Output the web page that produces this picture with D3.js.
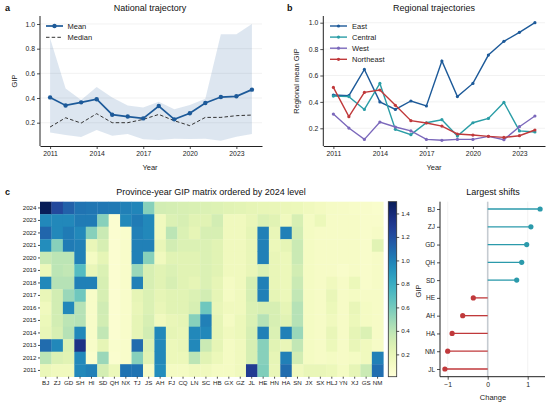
<!DOCTYPE html>
<html>
<head>
<meta charset="utf-8">
<script src="https://cdn.jsdelivr.net/npm/d3@7"></script>
<style>
  body { margin: 0; background: #fff; }
  svg { font-family: "Liberation Sans", Arial, sans-serif; }
  .tick text { fill: #222; }
</style>
</head>
<body>
<div id="chart"></div>
<script>
// ---- data ----
const years = [2011, 2012, 2013, 2014, 2015, 2016, 2017, 2018, 2019, 2020, 2021, 2022, 2023, 2024];

// panel a: national trajectory
const nationalMean   = [0.405, 0.34, 0.365, 0.39, 0.265, 0.25, 0.235, 0.335, 0.227, 0.276, 0.36, 0.408, 0.414, 0.468];
const nationalMedian = [0.165, 0.24, 0.197, 0.273, 0.2, 0.2, 0.227, 0.267, 0.216, 0.176, 0.243, 0.243, 0.257, 0.262];
const bandHigh = [0.884, 0.478, 0.384, 0.49, 0.405, 0.34, 0.324, 0.37, 0.31, 0.343, 0.395, 0.916, 0.916, 1.0];
const bandLow  = [0.12, 0.10, 0.084, 0.14, 0.095, 0.108, 0.065, 0.06, 0.07, 0.068, 0.07, 0.054, 0.086, 0.108];

// panel b: regional means
const regionNames = ['East', 'Central', 'West', 'Northeast'];
const eastMean      = [0.452, 0.447, 0.646, 0.40, 0.343, 0.407, 0.369, 0.71, 0.44, 0.54, 0.755, 0.859, 0.927, 1.0];
const centralMean   = [0.444, 0.44, 0.343, 0.54, 0.192, 0.152, 0.242, 0.265, 0.141, 0.242, 0.275, 0.396, 0.18, 0.172];
const westMean      = [0.308, 0.202, 0.116, 0.247, 0.21, 0.18, 0.116, 0.109, 0.116, 0.116, 0.139, 0.114, 0.212, 0.293];
const northeastMean = [0.51, 0.288, 0.472, 0.49, 0.374, 0.258, 0.24, 0.217, 0.157, 0.149, 0.139, 0.131, 0.144, 0.187];

// panel c: heatmap, provinces ordered by 2024 level, values listed 2024 -> 2011
const heatYears = [2024, 2023, 2022, 2021, 2020, 2019, 2018, 2017, 2016, 2015, 2014, 2013, 2012, 2011];
const provinces = ['BJ', 'ZJ', 'GD', 'SH', 'HI', 'SD', 'QH', 'NX', 'TJ', 'JS', 'AH', 'FJ', 'CQ', 'LN', 'SC',
                   'HB', 'GX', 'GZ', 'JL', 'HE', 'HN', 'HA', 'SN', 'JX', 'SX', 'HLJ', 'YN', 'XJ', 'GS', 'NM'];
const gipByProvince = [
  [1.50, 0.97, 1.10, 0.95, 0.36, 0.18, 0.97, 0.20, 0.15, 0.18, 0.20, 1.08, 0.40, 0.19], // BJ
  [1.23, 0.97, 0.97, 0.55, 0.40, 0.40, 0.42, 0.32, 0.32, 0.32, 0.30, 0.97, 0.28, 0.15], // ZJ
  [1.12, 0.97, 1.02, 1.02, 0.40, 0.38, 0.42, 0.50, 0.97, 0.40, 0.42, 0.28, 0.25, 0.15], // GD
  [1.05, 1.02, 0.97, 1.00, 1.00, 0.70, 1.00, 0.62, 0.42, 0.42, 0.97, 1.35, 0.97, 0.97], // SH
  [1.04, 1.02, 0.55, 0.20, 0.12, 0.20, 1.00, 0.09, 0.09, 0.09, 0.09, 0.09, 0.07, 1.00], // HI
  [1.035, 0.55, 0.35, 0.30, 0.22, 0.28, 0.30, 0.30, 0.33, 0.32, 0.38, 0.22, 0.50, 0.31], // SD
  [1.03, 0.05, 0.05, 0.05, 0.05, 0.05, 0.05, 0.05, 0.05, 0.05, 0.05, 0.07, 0.06, 0.18], // QH
  [1.00, 0.97, 0.07, 0.08, 0.08, 0.08, 0.08, 0.08, 0.08, 0.08, 0.08, 0.08, 0.08, 1.05], // NX
  [0.98, 1.02, 1.00, 1.00, 1.00, 0.50, 1.00, 0.22, 0.20, 0.22, 0.22, 1.08, 0.55, 1.05], // TJ
  [0.55, 0.97, 0.97, 1.00, 0.55, 0.30, 0.30, 0.28, 0.28, 0.30, 0.32, 0.28, 0.25, 0.10], // JS
  [0.32, 0.15, 0.15, 0.20, 0.15, 0.25, 0.25, 0.22, 0.20, 0.15, 0.97, 0.97, 0.97, 0.95], // AH
  [0.31, 0.28, 0.40, 0.32, 0.25, 0.28, 0.30, 0.25, 0.25, 0.20, 0.22, 0.18, 0.18, 0.12], // FJ
  [0.30, 0.30, 0.28, 0.28, 0.25, 0.25, 0.25, 0.25, 0.25, 0.22, 0.20, 0.20, 0.18, 0.12], // CQ
  [0.29, 0.25, 0.22, 0.28, 0.25, 0.25, 0.22, 0.28, 0.30, 0.55, 0.97, 0.97, 0.40, 0.15], // LN
  [0.28, 0.25, 0.30, 0.28, 0.28, 0.28, 0.28, 0.32, 0.62, 1.00, 0.97, 0.35, 0.25, 0.15], // SC
  [0.27, 0.32, 0.30, 0.25, 0.25, 0.25, 0.22, 0.22, 0.20, 0.22, 0.22, 0.22, 0.18, 0.12], // HB
  [0.25, 0.15, 0.15, 0.15, 0.15, 0.15, 0.12, 0.12, 0.15, 0.12, 0.15, 0.12, 0.12, 0.12], // GX
  [0.24, 0.15, 0.15, 0.15, 0.15, 0.15, 0.15, 0.15, 0.15, 0.18, 0.18, 0.15, 0.15, 0.15], // GZ
  [0.22, 0.20, 0.22, 0.20, 0.20, 0.20, 0.30, 0.30, 0.28, 0.28, 0.30, 0.30, 0.30, 1.29], // JL
  [0.21, 0.28, 1.00, 1.00, 1.00, 0.28, 1.00, 1.00, 0.30, 0.42, 1.00, 0.55, 0.55, 0.57], // HE
  [0.20, 0.25, 0.20, 0.18, 0.20, 0.20, 0.20, 0.22, 0.30, 0.30, 0.28, 0.25, 0.22, 0.20], // HN
  [0.19, 0.15, 1.00, 0.22, 0.18, 0.18, 0.18, 0.18, 0.22, 0.25, 1.00, 0.20, 1.00, 1.08], // HA
  [0.18, 0.30, 0.32, 0.35, 0.35, 0.32, 0.35, 0.38, 0.42, 0.42, 0.50, 0.38, 0.32, 0.15], // SN
  [0.15, 0.12, 0.12, 0.12, 0.12, 0.12, 0.12, 0.12, 0.12, 0.12, 0.12, 0.12, 0.12, 0.20], // JX
  [0.13, 0.18, 0.10, 0.10, 0.10, 0.10, 0.10, 0.10, 0.10, 0.10, 0.10, 0.10, 0.10, 0.20], // SX
  [0.11, 0.10, 0.10, 0.10, 0.10, 0.10, 0.15, 0.20, 0.18, 0.15, 0.20, 0.18, 0.12, 0.18], // HLJ
  [0.10, 0.10, 0.10, 0.10, 0.10, 0.08, 0.10, 0.10, 0.10, 0.10, 0.10, 0.10, 0.10, 0.12], // YN
  [0.09, 0.10, 0.10, 0.10, 0.10, 0.10, 0.18, 0.12, 0.20, 0.18, 0.22, 0.20, 0.12, 0.22], // XJ
  [0.08, 0.08, 0.08, 0.08, 0.08, 0.08, 0.08, 0.10, 0.12, 0.12, 0.28, 0.15, 0.15, 0.35], // GS
  [0.07, 0.08, 0.10, 0.25, 0.10, 0.10, 0.10, 0.10, 0.10, 0.10, 0.10, 0.10, 1.00, 1.07]  // NM
];

// panel d: largest shifts (2024 minus 2011)
const shiftProvinces = ['BJ', 'ZJ', 'GD', 'QH', 'SD', 'HE', 'AH', 'HA', 'NM', 'JL'];
const shiftValues = [1.31, 1.08, 0.975, 0.85, 0.725, -0.36, -0.625, -0.89, -1.0, -1.07];

// ---- styling ----
const width = 550;
const height = 404;
const ink = '#222';
const tickSize = 6.8;
const labelSize = 7.5;
const titleSize = 9;
const blue = '#1d5a99';
const regionColors = ['#1d5a99', '#2a9da6', '#7b68bb', '#c0393b'];

const svg = d3.select('#chart')
  .append('svg')
  .attr('width', width)
  .attr('height', height);

// Matplotlib-ish padded domain.
const pad = (lo, hi, frac = 0.05) => {
  const r = hi - lo;
  return [lo - r * frac, hi + r * frac];
};

// Style an axis group like the reference (thin dark spine, small ticks).
const styleAxis = (g, size) => {
  g.select('.domain').attr('stroke', ink).attr('stroke-width', 1);
  g.selectAll('.tick line').attr('stroke', ink).attr('stroke-width', 0.8);
  g.selectAll('.tick text').style('font-size', `${size}px`).attr('fill', ink);
};

const panelLabel = (x, y, t) => svg.append('text')
  .attr('x', x).attr('y', y)
  .text(t)
  .style('font-size', '9px')
  .style('font-weight', 'bold')
  .attr('fill', '#111');

const title = (x, y, t) => svg.append('text')
  .attr('x', x).attr('y', y)
  .attr('text-anchor', 'middle')
  .text(t)
  .style('font-size', `${titleSize}px`)
  .attr('fill', '#111');

const axisLabel = (x, y, t, rotate) => svg.append('text')
  .attr('transform', `translate(${x},${y})${rotate ? ' rotate(-90)' : ''}`)
  .attr('text-anchor', 'middle')
  .text(t)
  .style('font-size', `${labelSize}px`)
  .attr('fill', ink);

// ---- line panels (a, b) ----
// y is fixed by where the reference puts its 0.2 and 1.0 ticks.
const linePanel = (left, right, y02, y10) => {
  const x = d3.scaleLinear().domain(pad(2011, 2024)).range([left, right]);
  const y = d3.scaleLinear().domain([0.2, 1.0]).range([y02, y10]);
  const g = svg.append('g');

  // light grid
  g.append('g')
    .selectAll('line')
    .data([0.2, 0.4, 0.6, 0.8, 1.0])
    .enter()
    .append('line')
    .attr('x1', left).attr('x2', right)
    .attr('y1', d => y(d)).attr('y2', d => y(d))
    .attr('stroke', '#ececec')
    .attr('stroke-width', 0.7);

  return { x, y, g };
};

const drawAxes = (p, left, top, bottom) => {
  const xa = p.g.append('g')
    .attr('transform', `translate(0,${bottom})`)
    .call(d3.axisBottom(p.x).tickValues([2011, 2014, 2017, 2020, 2023]).tickFormat(d3.format('d'))
      .tickSize(3).tickPadding(2).tickSizeOuter(0));
  styleAxis(xa, tickSize);
  const ya = p.g.append('g')
    .attr('transform', `translate(${left},0)`)
    .call(d3.axisLeft(p.y).tickValues([0.2, 0.4, 0.6, 0.8, 1.0]).tickFormat(d3.format('.1f'))
      .tickSize(3).tickPadding(2).tickSizeOuter(0));
  ya.select('.domain').attr('d', `M0,${top}V${bottom}`);
  styleAxis(ya, tickSize);
};

// Panel a
{
  const left = 40, right = 262, top = 16, bottom = 146;
  const p = linePanel(left, right, 122.7, 24);

  const band = d3.area()
    .x((d, i) => p.x(years[i]))
    .y0((d, i) => p.y(bandLow[i]))
    .y1((d, i) => p.y(bandHigh[i]));
  p.g.append('path')
    .datum(years)
    .attr('d', band)
    .attr('fill', '#1d5a99')
    .attr('fill-opacity', 0.15);

  const line = d3.line().x((d, i) => p.x(years[i])).y(d => p.y(d));
  p.g.append('path')
    .datum(nationalMedian)
    .attr('d', line)
    .attr('fill', 'none')
    .attr('stroke', '#333')
    .attr('stroke-width', 1)
    .attr('stroke-dasharray', '3.5,2.2');
  p.g.append('path')
    .datum(nationalMean)
    .attr('d', line)
    .attr('fill', 'none')
    .attr('stroke', blue)
    .attr('stroke-width', 1.7);
  p.g.append('g')
    .selectAll('circle')
    .data(nationalMean)
    .enter()
    .append('circle')
    .attr('cx', (d, i) => p.x(years[i]))
    .attr('cy', d => p.y(d))
    .attr('r', 2.2)
    .attr('fill', blue);

  drawAxes(p, left, top, bottom);

  // legend
  const lg = svg.append('g');
  lg.append('line').attr('x1', 46).attr('x2', 63).attr('y1', 26).attr('y2', 26)
    .attr('stroke', blue).attr('stroke-width', 1.7);
  lg.append('circle').attr('cx', 54.5).attr('cy', 26).attr('r', 2.2).attr('fill', blue);
  lg.append('line').attr('x1', 46).attr('x2', 63).attr('y1', 37.3).attr('y2', 37.3)
    .attr('stroke', '#333').attr('stroke-width', 1).attr('stroke-dasharray', '3.5,2.2');
  lg.append('text').attr('x', 67.5).attr('y', 28.6).text('Mean').style('font-size', `${labelSize}px`).attr('fill', ink);
  lg.append('text').attr('x', 67.5).attr('y', 39.9).text('Median').style('font-size', `${labelSize}px`).attr('fill', ink);

  panelLabel(5, 11, 'a');
  title(150, 11, 'National trajectory');
  axisLabel(150, 170, 'Year');
  axisLabel(17, 81, 'GIP', true);
}

// Panel b
{
  const left = 323.3, right = 545, top = 16, bottom = 146;
  const p = linePanel(left, right, 128.3, 22.7);

  const series = [eastMean, centralMean, westMean, northeastMean];
  const line = d3.line().x((d, i) => p.x(years[i])).y(d => p.y(d));
  series.forEach((s, k) => {
    p.g.append('path')
      .datum(s)
      .attr('d', line)
      .attr('fill', 'none')
      .attr('stroke', regionColors[k])
      .attr('stroke-width', 1.4);
    p.g.append('g')
      .selectAll('circle')
      .data(s)
      .enter()
      .append('circle')
      .attr('cx', (d, i) => p.x(years[i]))
      .attr('cy', d => p.y(d))
      .attr('r', 1.6)
      .attr('fill', regionColors[k]);
  });

  drawAxes(p, left, top, bottom);

  const lg = svg.append('g')
    .selectAll('g')
    .data(regionNames)
    .enter()
    .append('g')
    .attr('transform', (d, i) => `translate(0, ${26 + i * 11.1})`);
  lg.append('line').attr('x1', 330).attr('x2', 347)
    .attr('stroke', (d, i) => regionColors[i]).attr('stroke-width', 1.4);
  lg.append('circle').attr('cx', 338.5).attr('r', 1.6).attr('fill', (d, i) => regionColors[i]);
  lg.append('text').attr('x', 352).attr('y', 2.6).text(d => d)
    .style('font-size', `${labelSize}px`).attr('fill', ink);

  panelLabel(287, 11, 'b');
  title(434, 11, 'Regional trajectories');
  axisLabel(434, 170, 'Year');
  axisLabel(299, 81, 'Regional mean GIP', true);
}

// ---- panel c: heatmap ----
{
  const left = 40, right = 383.3, top = 201.7, bottom = 376.7;
  const x = d3.scaleBand().domain(provinces).range([left, right]);
  const y = d3.scaleBand().domain(heatYears).range([top, bottom]);
  const flat = [].concat(...gipByProvince);
  const color = d3.scaleSequential(d3.interpolateYlGnBu).domain([0.01, d3.max(flat)]);

  const cols = svg.append('g')
    .selectAll('g')
    .data(gipByProvince)
    .enter()
    .append('g')
    .attr('transform', (d, i) => `translate(${x(provinces[i])},0)`);
  cols.selectAll('rect')
    .data(d => d)
    .enter()
    .append('rect')
    .attr('x', 0)
    .attr('y', (d, j) => y(heatYears[j]))
    .attr('width', x.bandwidth() + 0.3)
    .attr('height', y.bandwidth() + 0.3)
    .attr('fill', d => color(d));

  const xa = svg.append('g')
    .attr('transform', `translate(0,${bottom})`)
    .call(d3.axisBottom(x).tickSize(2).tickPadding(1.5));
  xa.select('.domain').remove();
  styleAxis(xa, 6.2);
  const ya = svg.append('g')
    .attr('transform', `translate(${left},0)`)
    .call(d3.axisLeft(y).tickSize(2).tickPadding(1.5));
  ya.select('.domain').remove();
  styleAxis(ya, 6.2);

  // colorbar
  const cbX = 388.3, cbW = 8.4;
  const cb = d3.scaleLinear().domain(color.domain()).range([bottom, top]);
  const defs = svg.append('defs');
  const grad = defs.append('linearGradient')
    .attr('id', 'cbgrad')
    .attr('x1', 0).attr('x2', 0).attr('y1', 1).attr('y2', 0);
  d3.range(0, 1.0001, 0.05).forEach(t => {
    grad.append('stop').attr('offset', t).attr('stop-color', d3.interpolateYlGnBu(t));
  });
  svg.append('rect')
    .attr('x', cbX).attr('y', top)
    .attr('width', cbW).attr('height', bottom - top)
    .attr('fill', 'url(#cbgrad)')
    .attr('stroke', '#333')
    .attr('stroke-width', 0.8);
  const ca = svg.append('g')
    .attr('transform', `translate(${cbX + cbW},0)`)
    .call(d3.axisRight(cb).tickValues([0.2, 0.4, 0.6, 0.8, 1.0, 1.2, 1.4]).tickFormat(d3.format('.1f'))
      .tickSize(2.5).tickPadding(2));
  ca.select('.domain').remove();
  styleAxis(ca, 6.2);

  panelLabel(5, 195, 'c');
  title(211, 195, 'Province-year GIP matrix ordered by 2024 level');
}

// ---- panel d: lollipop of largest shifts ----
{
  const left = 440, right = 545, top = 201.7, bottom = 376.7;
  const x = d3.scaleLinear().domain([-1, 1]).range([447.7, 527.7]);
  const y = d3.scalePoint().domain(shiftProvinces).range([209, 369]);
  const teal = '#2b9aab';
  const red = '#c0393b';

  const g = svg.append('g');
  g.selectAll('line.grid')
    .data([-1, 1])
    .enter()
    .append('line')
    .classed('grid', true)
    .attr('x1', d => x(d)).attr('x2', d => x(d))
    .attr('y1', top).attr('y2', bottom)
    .attr('stroke', '#ececec')
    .attr('stroke-width', 0.7);
  g.append('line')
    .attr('x1', x(0)).attr('x2', x(0))
    .attr('y1', top).attr('y2', bottom)
    .attr('stroke', '#c5cbd1')
    .attr('stroke-width', 1.6);

  const item = g.selectAll('g.item')
    .data(shiftValues)
    .enter()
    .append('g')
    .classed('item', true);
  item.append('line')
    .attr('x1', x(0)).attr('x2', d => x(d))
    .attr('y1', (d, i) => y(shiftProvinces[i]))
    .attr('y2', (d, i) => y(shiftProvinces[i]))
    .attr('stroke', d => d > 0 ? teal : red)
    .attr('stroke-width', 1.3);
  item.append('circle')
    .attr('cx', d => x(d))
    .attr('cy', (d, i) => y(shiftProvinces[i]))
    .attr('r', 2.6)
    .attr('fill', d => d > 0 ? teal : red);

  const xa = svg.append('g')
    .attr('transform', `translate(0,${bottom})`)
    .call(d3.axisBottom(x).tickValues([-1, 0, 1]).tickFormat(d => d < 0 ? '\u2212' + Math.abs(d) : d)
      .tickSize(3).tickPadding(2).tickSizeOuter(0));
  xa.select('.domain').attr('d', `M${left},0H${right}`);
  styleAxis(xa, tickSize);
  const ya = svg.append('g')
    .attr('transform', `translate(${left},0)`)
    .call(d3.axisLeft(y).tickSize(3).tickPadding(2).tickSizeOuter(0));
  ya.select('.domain').attr('d', `M0,${top}V${bottom}`);
  styleAxis(ya, 6.5);

  title(493, 195, 'Largest shifts');
  axisLabel(493, 400, 'Change');
  axisLabel(421, 291, 'GIP', true);
}
</script>
</body>
</html>
